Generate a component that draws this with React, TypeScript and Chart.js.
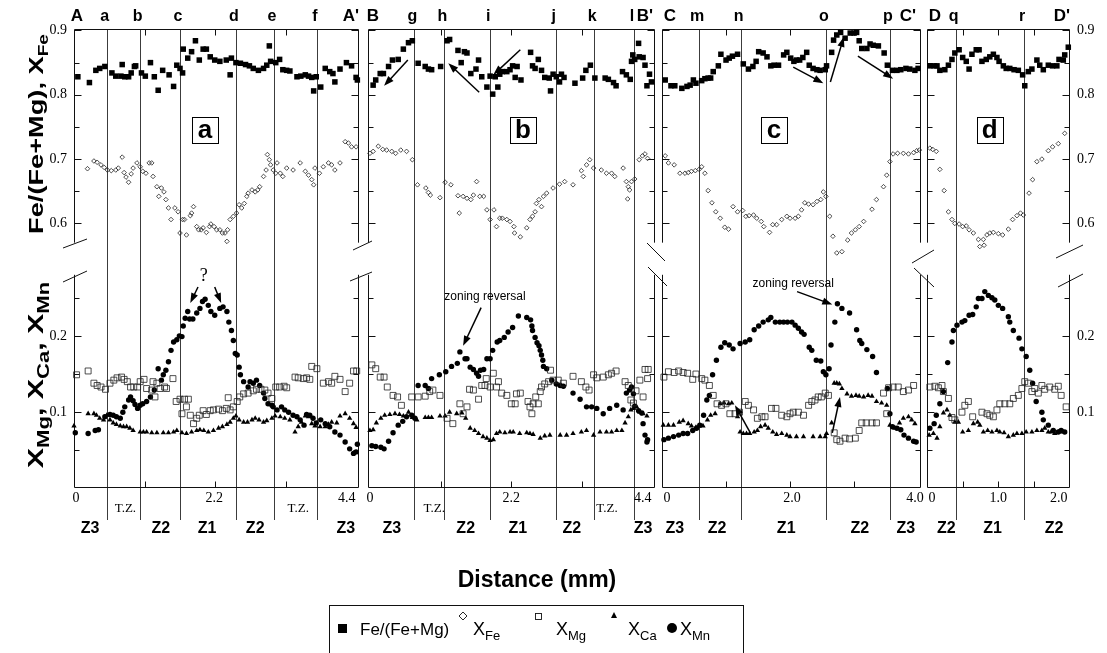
import React, { useEffect, useRef } from 'react';
import { Chart, registerables } from 'chart.js';

Chart.register(...registerables);

type Pt = [number, number];
type Arrow = [number, number, number, number, string];
type Note = [string, number, number, string, string];

const W = 1107;
const H = 653;
const TOP = 29;
const BOTTOM = 487;
const ZONE_LINE_END = 520;
const Y_TOP_MIN = 0.19;
const Y_TOP_MAX = 0.9023;
const Y_BOT_MIN = 0.002;
const Y_BOT_MAX = 0.602;
const TOP_AXIS_LOW = 0.57;
const BOT_AXIS_HIGH = 0.28;
const TOP_TICKS = [0.6, 0.65, 0.7, 0.75, 0.8, 0.85, 0.9];
const BOT_TICKS = [0.05, 0.1, 0.15, 0.2, 0.25];
const TOP_TICK_LABELS = [0.9, 0.8, 0.7, 0.6];
const BOT_TICK_LABELS = [0.2, 0.1];

const SANS = '"Liberation Sans", Arial, Helvetica, sans-serif';
const SERIF = '"Liberation Serif", "Times New Roman", Times, serif';

// ---------------- Profile A–A' (panel a) ----------------
const aFeMg: Pt[] = [[0.06,0.828],[0.24,0.819],[0.34,0.838],[0.40,0.841],[0.48,0.844],[0.59,0.834],[0.65,0.829],[0.73,0.829],[0.75,0.847],[0.79,0.828],[0.85,0.828],[0.89,0.834],[0.94,0.844],[0.96,0.845],[1.05,0.834],[1.11,0.829],[1.19,0.850],[1.25,0.828],[1.31,0.807],[1.38,0.838],[1.48,0.831],[1.55,0.813],[1.60,0.846],[1.65,0.841],[1.69,0.834],[1.70,0.871],[1.77,0.857],[1.83,0.867],[1.89,0.884],[1.95,0.854],[2.01,0.871],[2.06,0.871],[2.12,0.859],[2.19,0.854],[2.27,0.852],[2.37,0.854],[2.43,0.831],[2.45,0.857],[2.52,0.850],[2.59,0.849],[2.67,0.847],[2.73,0.845],[2.79,0.841],[2.87,0.838],[2.95,0.841],[3.00,0.846],[3.04,0.876],[3.06,0.852],[3.14,0.850],[3.20,0.855],[3.25,0.839],[3.31,0.838],[3.36,0.837],[3.47,0.828],[3.53,0.829],[3.60,0.831],[3.65,0.829],[3.70,0.827],[3.73,0.806],[3.77,0.828],[3.84,0.812],[3.91,0.841],[3.98,0.836],[4.03,0.833],[4.06,0.820],[4.14,0.840],[4.24,0.850],[4.32,0.845],[4.39,0.827],[4.41,0.823]];
const aXFe: Pt[] = [[0.21,0.685],[0.31,0.697],[0.36,0.695],[0.42,0.691],[0.47,0.687],[0.52,0.683],[0.58,0.682],[0.65,0.683],[0.69,0.686],[0.75,0.703],[0.78,0.679],[0.81,0.672],[0.85,0.664],[0.89,0.677],[0.92,0.686],[0.98,0.694],[1.03,0.688],[1.07,0.681],[1.12,0.678],[1.17,0.694],[1.21,0.694],[1.23,0.673],[1.29,0.657],[1.32,0.642],[1.36,0.655],[1.40,0.649],[1.43,0.637],[1.47,0.624],[1.51,0.606],[1.57,0.624],[1.62,0.618],[1.65,0.585],[1.69,0.606],[1.72,0.606],[1.75,0.582],[1.81,0.612],[1.83,0.616],[1.86,0.626],[1.91,0.595],[1.94,0.590],[1.98,0.590],[2.01,0.593],[2.06,0.586],[2.11,0.595],[2.13,0.599],[2.18,0.595],[2.22,0.590],[2.27,0.590],[2.31,0.585],[2.35,0.585],[2.38,0.572],[2.39,0.590],[2.43,0.606],[2.48,0.611],[2.53,0.616],[2.57,0.629],[2.61,0.624],[2.65,0.631],[2.69,0.642],[2.71,0.647],[2.77,0.652],[2.82,0.649],[2.86,0.652],[2.89,0.657],[2.95,0.673],[2.99,0.683],[3.01,0.707],[3.04,0.699],[3.06,0.691],[3.10,0.683],[3.14,0.678],[3.16,0.694],[3.21,0.678],[3.25,0.673],[3.31,0.686],[3.41,0.683],[3.52,0.694],[3.60,0.681],[3.65,0.675],[3.70,0.668],[3.73,0.660],[3.75,0.686],[3.82,0.678],[3.88,0.688],[3.96,0.694],[4.01,0.691],[4.06,0.683],[4.14,0.694],[4.22,0.727],[4.27,0.725],[4.32,0.719],[4.39,0.719]];
const aXMn: Pt[] = [[0.02,0.073],[0.22,0.072],[0.33,0.076],[0.38,0.077],[0.48,0.094],[0.56,0.097],[0.61,0.096],[0.66,0.094],[0.72,0.092],[0.76,0.100],[0.79,0.107],[0.85,0.116],[0.88,0.120],[0.92,0.115],[0.95,0.110],[0.99,0.105],[1.03,0.109],[1.07,0.111],[1.13,0.114],[1.19,0.120],[1.25,0.129],[1.31,0.157],[1.36,0.142],[1.39,0.149],[1.43,0.155],[1.47,0.166],[1.51,0.181],[1.55,0.192],[1.60,0.195],[1.64,0.200],[1.68,0.199],[1.70,0.213],[1.73,0.223],[1.77,0.232],[1.80,0.222],[1.85,0.222],[1.91,0.230],[1.96,0.236],[2.00,0.245],[2.04,0.248],[2.09,0.240],[2.13,0.232],[2.19,0.227],[2.27,0.236],[2.32,0.238],[2.38,0.232],[2.41,0.218],[2.45,0.207],[2.48,0.194],[2.51,0.177],[2.54,0.175],[2.57,0.159],[2.59,0.149],[2.64,0.140],[2.71,0.133],[2.74,0.140],[2.79,0.138],[2.84,0.142],[2.89,0.135],[2.95,0.125],[2.97,0.118],[3.02,0.111],[3.08,0.109],[3.10,0.107],[3.16,0.103],[3.23,0.107],[3.28,0.103],[3.34,0.100],[3.41,0.096],[3.47,0.094],[3.52,0.090],[3.58,0.083],[3.62,0.097],[3.67,0.096],[3.72,0.092],[3.77,0.086],[3.84,0.090],[3.91,0.085],[3.98,0.081],[4.06,0.074],[4.14,0.070],[4.22,0.061],[4.29,0.052],[4.35,0.046],[4.39,0.048],[4.41,0.058]];
const aXMg: Pt[] = [[0.04,0.149],[0.22,0.154],[0.31,0.138],[0.36,0.135],[0.42,0.133],[0.49,0.130],[0.56,0.138],[0.62,0.142],[0.67,0.145],[0.74,0.146],[0.78,0.143],[0.83,0.140],[0.88,0.133],[0.93,0.133],[0.99,0.133],[1.03,0.140],[1.09,0.143],[1.13,0.131],[1.21,0.129],[1.23,0.140],[1.26,0.120],[1.29,0.138],[1.34,0.131],[1.41,0.133],[1.44,0.131],[1.54,0.144],[1.59,0.114],[1.65,0.117],[1.72,0.117],[1.78,0.117],[1.68,0.098],[1.75,0.107],[1.81,0.096],[1.86,0.085],[1.91,0.092],[1.95,0.096],[2.01,0.102],[2.06,0.097],[2.12,0.102],[2.17,0.103],[2.25,0.104],[2.31,0.102],[2.37,0.105],[2.40,0.119],[2.43,0.103],[2.48,0.107],[2.54,0.114],[2.58,0.120],[2.64,0.124],[2.71,0.125],[2.79,0.128],[2.84,0.130],[2.91,0.130],[2.97,0.129],[3.02,0.125],[3.08,0.118],[3.14,0.133],[3.20,0.133],[3.27,0.134],[3.31,0.132],[3.44,0.146],[3.49,0.145],[3.57,0.144],[3.62,0.145],[3.67,0.143],[3.70,0.160],[3.78,0.157],[3.88,0.138],[3.96,0.140],[4.01,0.138],[4.06,0.147],[4.14,0.143],[4.22,0.127],[4.29,0.138],[4.35,0.154],[4.40,0.154]];
const aXCa: Pt[] = [[0.00,0.082],[0.22,0.098],[0.31,0.098],[0.35,0.096],[0.40,0.092],[0.46,0.090],[0.51,0.096],[0.56,0.090],[0.61,0.086],[0.66,0.084],[0.72,0.082],[0.77,0.081],[0.82,0.081],[0.87,0.079],[0.92,0.076],[1.03,0.074],[1.08,0.074],[1.13,0.074],[1.21,0.073],[1.29,0.073],[1.39,0.073],[1.47,0.073],[1.55,0.074],[1.60,0.076],[1.68,0.073],[1.75,0.072],[1.83,0.074],[1.91,0.076],[1.96,0.077],[2.02,0.076],[2.09,0.074],[2.17,0.076],[2.25,0.079],[2.31,0.081],[2.38,0.084],[2.43,0.087],[2.48,0.092],[2.52,0.095],[2.57,0.090],[2.64,0.087],[2.70,0.087],[2.77,0.090],[2.82,0.092],[2.88,0.090],[2.95,0.087],[3.00,0.089],[3.08,0.092],[3.13,0.095],[3.21,0.094],[3.28,0.092],[3.36,0.090],[3.44,0.074],[3.49,0.081],[3.54,0.087],[3.60,0.095],[3.65,0.094],[3.70,0.085],[3.75,0.082],[3.83,0.081],[3.91,0.081],[3.96,0.084],[4.01,0.087],[4.09,0.086],[4.14,0.095],[4.22,0.098],[4.29,0.092],[4.35,0.085],[4.39,0.080]];
const aLines = [0.51, 1.02, 1.65, 2.52, 3.11, 3.78];
const aLetters = ['a', 'b', 'c', 'd', 'e', 'f'];
const aTickLabels: [number, string][] = [[0, '0'], [2.2, '2.2'], [4.4, '4.4']];
const aTZ = [0.8, 3.49];
const aZones: [number, string][] = [[0.25, 'Z3'], [1.35, 'Z2'], [2.07, 'Z1'], [2.82, 'Z2'], [4.23, 'Z3']];
const aArrows: Arrow[] = [[1.93, 0.264, 1.81, 0.243, 'yBot'], [2.19, 0.264, 2.29, 0.243, 'yBot']];
const aNotes: Note[] = [['?', 2.02, 0.2785, 'yBot', `18px ${SERIF}`]];

// ---------------- Profile B–B' (panel b) ----------------
const bFeMg: Pt[] = [[0.05,0.815],[0.09,0.823],[0.16,0.833],[0.21,0.833],[0.29,0.844],[0.35,0.854],[0.44,0.855],[0.52,0.871],[0.60,0.881],[0.66,0.884],[0.75,0.849],[0.86,0.844],[0.91,0.840],[0.96,0.839],[1.10,0.844],[1.20,0.884],[1.24,0.886],[1.37,0.869],[1.42,0.850],[1.47,0.867],[1.51,0.865],[1.57,0.833],[1.65,0.840],[1.69,0.854],[1.74,0.828],[1.82,0.812],[1.87,0.829],[1.91,0.801],[1.95,0.828],[1.99,0.812],[2.02,0.832],[2.06,0.836],[2.13,0.836],[2.18,0.839],[2.22,0.845],[2.26,0.827],[2.29,0.844],[2.35,0.823],[2.50,0.866],[2.53,0.845],[2.57,0.841],[2.62,0.855],[2.67,0.838],[2.72,0.827],[2.79,0.826],[2.81,0.806],[2.85,0.832],[2.90,0.828],[2.95,0.820],[2.98,0.832],[3.02,0.827],[3.19,0.818],[3.31,0.826],[3.36,0.838],[3.43,0.846],[3.50,0.826],[3.66,0.826],[3.71,0.824],[3.79,0.819],[3.83,0.814],[3.93,0.836],[3.99,0.831],[4.05,0.824],[4.07,0.852],[4.09,0.862],[4.12,0.855],[4.18,0.880],[4.19,0.859],[4.25,0.858],[4.28,0.846],[4.31,0.814],[4.35,0.832],[4.38,0.820]];
const bXFe: Pt[] = [[0.00,0.709],[0.05,0.712],[0.13,0.720],[0.20,0.715],[0.26,0.714],[0.34,0.712],[0.40,0.709],[0.48,0.714],[0.57,0.712],[0.66,0.699],[0.74,0.660],[0.87,0.655],[0.91,0.648],[0.94,0.644],[1.09,0.640],[1.17,0.664],[1.26,0.660],[1.37,0.643],[1.39,0.616],[1.45,0.642],[1.51,0.639],[1.57,0.637],[1.61,0.644],[1.66,0.665],[1.71,0.642],[1.77,0.642],[1.82,0.621],[1.87,0.606],[1.93,0.621],[1.97,0.595],[2.02,0.608],[2.06,0.608],[2.13,0.606],[2.18,0.603],[2.24,0.595],[2.25,0.585],[2.34,0.579],[2.44,0.593],[2.49,0.606],[2.53,0.611],[2.57,0.618],[2.59,0.631],[2.63,0.637],[2.67,0.626],[2.70,0.642],[2.75,0.647],[2.85,0.655],[2.95,0.661],[3.03,0.665],[3.16,0.660],[3.29,0.682],[3.32,0.673],[3.37,0.691],[3.42,0.699],[3.48,0.686],[3.60,0.683],[3.68,0.678],[3.76,0.678],[3.81,0.673],[3.94,0.686],[3.99,0.665],[4.02,0.657],[4.04,0.652],[4.01,0.638],[4.07,0.665],[4.12,0.669],[4.19,0.699],[4.24,0.705],[4.28,0.708],[4.32,0.701]];
const bXMn: Pt[] = [[0.03,0.056],[0.09,0.055],[0.17,0.054],[0.22,0.052],[0.29,0.062],[0.36,0.073],[0.44,0.083],[0.51,0.088],[0.57,0.094],[0.65,0.096],[0.70,0.092],[0.75,0.135],[0.86,0.135],[0.91,0.131],[0.96,0.144],[1.08,0.149],[1.18,0.153],[1.27,0.160],[1.36,0.164],[1.40,0.179],[1.48,0.170],[1.51,0.170],[1.56,0.159],[1.61,0.156],[1.66,0.151],[1.69,0.147],[1.72,0.155],[1.77,0.156],[1.82,0.170],[1.87,0.170],[1.91,0.181],[1.98,0.192],[2.02,0.194],[2.09,0.198],[2.15,0.205],[2.22,0.211],[2.31,0.226],[2.44,0.224],[2.50,0.221],[2.52,0.213],[2.53,0.207],[2.57,0.198],[2.60,0.191],[2.63,0.187],[2.65,0.181],[2.67,0.175],[2.69,0.168],[2.70,0.160],[2.75,0.157],[2.83,0.142],[2.90,0.137],[2.96,0.135],[3.01,0.134],[3.16,0.125],[3.27,0.117],[3.37,0.107],[3.45,0.107],[3.53,0.105],[3.63,0.098],[3.73,0.105],[3.84,0.109],[3.94,0.103],[3.99,0.125],[4.04,0.129],[4.07,0.133],[4.10,0.124],[4.12,0.108],[4.18,0.102],[4.23,0.099],[4.25,0.085],[4.28,0.070],[4.31,0.061],[4.32,0.064]];
const bXMg: Pt[] = [[0.03,0.162],[0.09,0.157],[0.16,0.146],[0.22,0.146],[0.27,0.133],[0.36,0.122],[0.43,0.120],[0.49,0.109],[0.65,0.120],[0.75,0.120],[0.86,0.121],[0.93,0.127],[0.98,0.129],[1.09,0.122],[1.20,0.092],[1.29,0.085],[1.40,0.111],[1.45,0.098],[1.51,0.107],[1.55,0.130],[1.61,0.129],[1.69,0.117],[1.74,0.135],[1.79,0.135],[1.81,0.144],[1.87,0.133],[1.92,0.151],[1.97,0.133],[2.00,0.140],[2.05,0.125],[2.13,0.122],[2.20,0.111],[2.26,0.111],[2.28,0.124],[2.34,0.125],[2.46,0.114],[2.49,0.107],[2.52,0.098],[2.54,0.111],[2.58,0.120],[2.62,0.111],[2.65,0.127],[2.67,0.133],[2.72,0.137],[2.78,0.140],[2.81,0.155],[2.85,0.142],[2.93,0.142],[3.01,0.138],[3.16,0.147],[3.29,0.140],[3.36,0.133],[3.41,0.129],[3.48,0.149],[3.53,0.145],[3.63,0.146],[3.71,0.149],[3.76,0.151],[3.83,0.154],[3.97,0.140],[4.02,0.135],[4.06,0.116],[4.10,0.112],[4.14,0.128],[4.20,0.142],[4.25,0.120],[4.28,0.156],[4.33,0.156],[4.32,0.144]];
const bXCa: Pt[] = [[0.00,0.076],[0.05,0.077],[0.10,0.086],[0.17,0.092],[0.23,0.096],[0.31,0.097],[0.39,0.098],[0.46,0.097],[0.52,0.095],[0.60,0.100],[0.66,0.093],[0.73,0.090],[0.86,0.093],[0.91,0.093],[0.96,0.093],[1.09,0.095],[1.17,0.095],[1.24,0.100],[1.35,0.098],[1.43,0.099],[1.49,0.092],[1.56,0.079],[1.63,0.076],[1.69,0.072],[1.76,0.068],[1.82,0.066],[1.87,0.063],[1.92,0.064],[1.97,0.072],[2.02,0.074],[2.10,0.073],[2.18,0.074],[2.23,0.074],[2.33,0.072],[2.44,0.073],[2.49,0.072],[2.54,0.071],[2.65,0.066],[2.72,0.069],[2.80,0.070],[2.96,0.070],[3.06,0.070],[3.16,0.072],[3.29,0.074],[3.37,0.076],[3.48,0.070],[3.58,0.074],[3.68,0.074],[3.76,0.074],[3.84,0.076],[3.92,0.076],[3.97,0.086],[4.02,0.094],[4.06,0.103],[4.10,0.105],[4.15,0.107],[4.20,0.100],[4.25,0.098],[4.31,0.095]];
const bLines = [0.69, 1.16, 1.87, 2.89, 3.49, 4.11];
const bLetters = ['g', 'h', 'i', 'j', 'k', 'l'];
const bTickLabels: [number, string][] = [[0, '0'], [2.2, '2.2'], [4.4, '4.4']];
const bTZ = [1.0, 3.69];
const bZones: [number, string][] = [[0.34, 'Z3'], [1.49, 'Z2'], [2.3, 'Z1'], [3.14, 'Z2'], [4.25, 'Z3']];
const bArrows: Arrow[] = [[0.59, 0.854, 0.22, 0.814, 'yTop'], [1.70, 0.804, 1.22, 0.849, 'yTop'], [2.34, 0.870, 1.92, 0.831, 'yTop'], [1.73, 0.237, 1.45, 0.187, 'yBot']];
const bNotes: Note[] = [['zoning reversal', 1.79, 0.251, 'yBot', `12px ${SANS}`]];

// ---------------- Profile C–C' (panel c) ----------------
const cFeMg: Pt[] = [[0.05,0.823],[0.14,0.814],[0.20,0.814],[0.31,0.810],[0.39,0.813],[0.44,0.815],[0.49,0.823],[0.53,0.818],[0.62,0.822],[0.67,0.825],[0.72,0.826],[0.76,0.826],[0.80,0.836],[0.88,0.845],[0.92,0.863],[1.00,0.854],[1.05,0.857],[1.10,0.860],[1.18,0.863],[1.27,0.848],[1.35,0.840],[1.42,0.844],[1.47,0.852],[1.51,0.867],[1.58,0.865],[1.64,0.859],[1.70,0.845],[1.75,0.846],[1.82,0.846],[1.90,0.862],[1.95,0.866],[2.01,0.857],[2.06,0.852],[2.10,0.854],[2.15,0.854],[2.20,0.858],[2.26,0.866],[2.30,0.846],[2.36,0.841],[2.42,0.839],[2.47,0.838],[2.55,0.839],[2.57,0.845],[2.65,0.866],[2.68,0.885],[2.73,0.893],[2.79,0.897],[2.86,0.888],[2.94,0.896],[3.00,0.896],[3.04,0.897],[3.08,0.884],[3.12,0.872],[3.20,0.872],[3.25,0.879],[3.30,0.877],[3.38,0.876],[3.47,0.865],[3.52,0.846],[3.60,0.838],[3.67,0.838],[3.73,0.839],[3.81,0.841],[3.87,0.840],[3.95,0.838],[4.00,0.841]];
const cXFe: Pt[] = [[0.05,0.705],[0.10,0.694],[0.19,0.691],[0.28,0.678],[0.36,0.678],[0.41,0.679],[0.46,0.681],[0.52,0.682],[0.58,0.684],[0.62,0.688],[0.67,0.678],[0.72,0.651],[0.78,0.632],[0.84,0.618],[0.91,0.608],[0.98,0.594],[1.04,0.591],[1.11,0.626],[1.18,0.618],[1.26,0.620],[1.31,0.611],[1.36,0.612],[1.43,0.613],[1.48,0.608],[1.55,0.603],[1.59,0.595],[1.68,0.586],[1.73,0.598],[1.79,0.598],[1.87,0.606],[1.95,0.611],[2.00,0.608],[2.08,0.608],[2.13,0.611],[2.18,0.621],[2.23,0.632],[2.29,0.630],[2.36,0.629],[2.42,0.634],[2.48,0.637],[2.52,0.649],[2.56,0.642],[2.62,0.611],[2.67,0.580],[2.73,0.554],[2.81,0.556],[2.90,0.574],[2.96,0.585],[3.02,0.590],[3.08,0.595],[3.15,0.603],[3.28,0.622],[3.35,0.637],[3.46,0.657],[3.51,0.675],[3.56,0.696],[3.61,0.708],[3.68,0.709],[3.77,0.709],[3.85,0.708],[3.93,0.710],[3.98,0.713],[4.02,0.714]];
const cXMn: Pt[] = [[0.03,0.064],[0.10,0.066],[0.18,0.068],[0.26,0.070],[0.33,0.072],[0.40,0.072],[0.48,0.076],[0.54,0.079],[0.59,0.083],[0.65,0.096],[0.70,0.116],[0.74,0.122],[0.79,0.149],[0.85,0.168],[0.92,0.185],[0.98,0.191],[1.05,0.188],[1.11,0.183],[1.22,0.190],[1.30,0.192],[1.37,0.195],[1.44,0.208],[1.51,0.213],[1.58,0.218],[1.66,0.221],[1.70,0.224],[1.77,0.218],[1.84,0.218],[1.90,0.218],[1.96,0.218],[2.03,0.218],[2.08,0.214],[2.13,0.210],[2.18,0.205],[2.22,0.202],[2.30,0.185],[2.34,0.181],[2.41,0.168],[2.48,0.167],[2.52,0.153],[2.56,0.149],[2.61,0.157],[2.64,0.188],[2.70,0.218],[2.74,0.242],[2.81,0.236],[2.93,0.230],[3.04,0.208],[3.09,0.194],[3.12,0.190],[3.20,0.182],[3.29,0.173],[3.35,0.152],[3.52,0.131],[3.56,0.098],[3.60,0.081],[3.67,0.079],[3.73,0.077],[3.78,0.070],[3.85,0.066],[3.93,0.062],[3.97,0.061]];
const cXMg: Pt[] = [[0.03,0.146],[0.10,0.153],[0.19,0.152],[0.26,0.154],[0.33,0.152],[0.40,0.151],[0.48,0.143],[0.53,0.150],[0.62,0.144],[0.67,0.142],[0.74,0.135],[0.80,0.122],[0.86,0.111],[0.93,0.109],[1.00,0.111],[1.06,0.098],[1.14,0.098],[1.21,0.100],[1.30,0.114],[1.35,0.109],[1.43,0.103],[1.49,0.092],[1.56,0.094],[1.61,0.094],[1.71,0.105],[1.78,0.105],[1.87,0.096],[1.95,0.094],[2.00,0.098],[2.05,0.100],[2.13,0.100],[2.21,0.096],[2.29,0.109],[2.34,0.114],[2.39,0.116],[2.44,0.120],[2.49,0.120],[2.55,0.125],[2.60,0.122],[2.69,0.073],[2.73,0.064],[2.78,0.062],[2.86,0.066],[2.93,0.065],[3.02,0.066],[3.08,0.076],[3.12,0.086],[3.19,0.086],[3.28,0.086],[3.35,0.086],[3.46,0.125],[3.51,0.098],[3.54,0.132],[3.61,0.133],[3.69,0.133],[3.77,0.127],[3.85,0.129],[3.93,0.135]];
const cXCa: Pt[] = [[0.02,0.083],[0.10,0.083],[0.18,0.083],[0.27,0.087],[0.33,0.089],[0.41,0.085],[0.46,0.082],[0.53,0.080],[0.58,0.082],[0.64,0.082],[0.71,0.090],[0.76,0.096],[0.83,0.098],[0.91,0.111],[0.97,0.112],[1.04,0.111],[1.09,0.112],[1.18,0.094],[1.22,0.074],[1.27,0.072],[1.32,0.072],[1.37,0.072],[1.44,0.074],[1.49,0.076],[1.54,0.081],[1.61,0.083],[1.66,0.079],[1.73,0.074],[1.79,0.071],[1.87,0.072],[1.95,0.070],[2.00,0.068],[2.10,0.068],[2.21,0.068],[2.36,0.068],[2.47,0.068],[2.55,0.068],[2.57,0.072],[2.65,0.086],[2.69,0.138],[2.73,0.138],[2.77,0.137],[2.81,0.131],[2.89,0.124],[2.96,0.121],[3.03,0.122],[3.08,0.121],[3.15,0.120],[3.22,0.122],[3.28,0.121],[3.35,0.114],[3.43,0.112],[3.51,0.109],[3.56,0.083],[3.64,0.079],[3.71,0.086],[3.77,0.092],[3.85,0.094],[3.90,0.090],[3.95,0.085]];
const cLines = [0.58, 1.23, 2.56, 3.56];
const cLetters = ['m', 'n', 'o', 'p'];
const cTickLabels: [number, string][] = [[0, '0'], [2.0, '2.0'], [4.0, '4.0']];
const cTZ: number[] = [];
const cZones: [number, string][] = [[0.2, 'Z3'], [0.86, 'Z2'], [1.94, 'Z1'], [3.09, 'Z2'], [3.81, 'Z3']];
const cArrows: Arrow[] = [[2.05, 0.843, 2.52, 0.818, 'yTop'], [2.63, 0.820, 2.84, 0.890, 'yTop'], [3.06, 0.860, 3.61, 0.825, 'yTop'], [2.11, 0.258, 2.66, 0.241, 'yBot'], [1.38, 0.073, 1.14, 0.109, 'yBot'], [2.66, 0.073, 2.78, 0.120, 'yBot']];
const cNotes: Note[] = [['zoning reversal', 2.05, 0.269, 'yBot', `12px ${SANS}`]];

// ---------------- Profile D–D' (panel d) ----------------
const dFeMg: Pt[] = [[0.04,0.845],[0.10,0.845],[0.14,0.845],[0.18,0.838],[0.25,0.839],[0.30,0.846],[0.35,0.855],[0.39,0.865],[0.45,0.870],[0.50,0.858],[0.55,0.852],[0.59,0.840],[0.63,0.863],[0.69,0.870],[0.73,0.870],[0.77,0.852],[0.83,0.855],[0.88,0.859],[0.93,0.863],[0.98,0.858],[1.01,0.852],[1.07,0.845],[1.11,0.841],[1.16,0.841],[1.22,0.839],[1.28,0.838],[1.34,0.831],[1.37,0.814],[1.42,0.836],[1.47,0.840],[1.54,0.854],[1.58,0.846],[1.63,0.839],[1.70,0.846],[1.76,0.845],[1.82,0.845],[1.85,0.855],[1.91,0.854],[1.93,0.862],[1.98,0.874]];
const dXFe: Pt[] = [[0.04,0.717],[0.08,0.715],[0.13,0.712],[0.18,0.684],[0.24,0.651],[0.30,0.618],[0.35,0.606],[0.39,0.600],[0.45,0.599],[0.50,0.595],[0.55,0.596],[0.59,0.590],[0.65,0.585],[0.72,0.575],[0.74,0.564],[0.79,0.575],[0.80,0.566],[0.84,0.582],[0.88,0.585],[0.93,0.586],[1.00,0.584],[1.06,0.582],[1.14,0.591],[1.20,0.606],[1.26,0.612],[1.31,0.616],[1.35,0.613],[1.43,0.647],[1.48,0.668],[1.54,0.696],[1.61,0.700],[1.70,0.713],[1.76,0.719],[1.84,0.724],[1.93,0.740]];
const dXMn: Pt[] = [[0.04,0.079],[0.10,0.085],[0.13,0.096],[0.18,0.111],[0.23,0.127],[0.29,0.165],[0.35,0.192],[0.37,0.207],[0.42,0.214],[0.49,0.218],[0.53,0.220],[0.59,0.227],[0.64,0.228],[0.69,0.238],[0.72,0.249],[0.77,0.249],[0.81,0.258],[0.86,0.253],[0.91,0.250],[0.95,0.247],[1.00,0.240],[1.06,0.236],[1.14,0.225],[1.16,0.218],[1.21,0.207],[1.29,0.197],[1.33,0.183],[1.39,0.173],[1.44,0.155],[1.48,0.138],[1.53,0.114],[1.61,0.100],[1.63,0.090],[1.70,0.083],[1.77,0.076],[1.84,0.074],[1.88,0.076],[1.93,0.074]];
const dXMg: Pt[] = [[0.04,0.133],[0.11,0.134],[0.16,0.132],[0.21,0.135],[0.23,0.127],[0.30,0.118],[0.35,0.093],[0.39,0.090],[0.49,0.100],[0.53,0.109],[0.58,0.114],[0.64,0.094],[0.77,0.100],[0.84,0.098],[0.88,0.096],[0.93,0.094],[0.98,0.103],[1.02,0.111],[1.09,0.111],[1.16,0.111],[1.21,0.118],[1.28,0.122],[1.33,0.131],[1.37,0.140],[1.42,0.138],[1.47,0.127],[1.51,0.131],[1.56,0.125],[1.61,0.135],[1.65,0.130],[1.72,0.133],[1.79,0.130],[1.84,0.134],[1.88,0.122],[1.95,0.107]];
const dXCa: Pt[] = [[0.03,0.070],[0.09,0.072],[0.14,0.066],[0.18,0.081],[0.23,0.099],[0.28,0.103],[0.32,0.096],[0.39,0.087],[0.44,0.087],[0.50,0.074],[0.58,0.076],[0.65,0.085],[0.71,0.087],[0.74,0.083],[0.79,0.074],[0.85,0.076],[0.91,0.074],[0.98,0.076],[1.02,0.074],[1.08,0.073],[1.14,0.068],[1.21,0.070],[1.26,0.072],[1.33,0.072],[1.39,0.074],[1.47,0.074],[1.54,0.076],[1.61,0.076],[1.65,0.079],[1.70,0.074],[1.74,0.074],[1.79,0.072],[1.84,0.074],[1.91,0.074]];
const dLines = [0.4, 1.36];
const dLetters = ['q', 'r'];
const dTickLabels: [number, string][] = [[0, '0'], [1.0, '1.0'], [2.0, '2.0']];
const dTZ: number[] = [];
const dZones: [number, string][] = [[0.27, 'Z2'], [0.92, 'Z1'], [1.78, 'Z2']];
const dArrows: Arrow[] = [];
const dNotes: Note[] = [];

const PANELS = [
  { key: 'a', left: 74, right: 358, xMin: 0, xMax: 4.42, feMg: aFeMg, xFe: aXFe, xMg: aXMg, xCa: aXCa, xMn: aXMn, lines: aLines, letters: aLetters, capL: 'A', capLdx: 3, capR: "A'", capRdx: -7, xTicks: [1.1, 2.2, 3.3], tickLabels: aTickLabels, labelDx: [2, -1, -10], tz: aTZ, zones: aZones, arrows: aArrows, notes: aNotes, box: [2.04, 0.745, 'a'], yLabels: 'left' },
  { key: 'b', left: 368, right: 654, xMin: -0.03, xMax: 4.42, feMg: bFeMg, xFe: bXFe, xMg: bXMg, xCa: bXCa, xMn: bXMn, lines: bLines, letters: bLetters, capL: 'B', capLdx: 5, capR: "B'", capRdx: -9, xTicks: [1.1, 2.2, 3.3], tickLabels: bTickLabels, labelDx: [0, 0, -10], tz: bTZ, zones: bZones, arrows: bArrows, notes: bNotes, box: [2.38, 0.745, 'b'], yLabels: 'none' },
  { key: 'c', left: 662, right: 920, xMin: 0, xMax: 4.03, feMg: cFeMg, xFe: cXFe, xMg: cXMg, xCa: cXCa, xMn: cXMn, lines: cLines, letters: cLetters, capL: 'C', capLdx: 8, capR: "C'", capRdx: -12, xTicks: [1, 2, 3], tickLabels: cTickLabels, labelDx: [5, 2, -3], tz: cTZ, zones: cZones, arrows: cArrows, notes: cNotes, box: [1.75, 0.745, 'c'], yLabels: 'none' },
  { key: 'd', left: 927, right: 1069, xMin: 0, xMax: 1.99, feMg: dFeMg, xFe: dXFe, xMg: dXMg, xCa: dXCa, xMn: dXMn, lines: dLines, letters: dLetters, capL: 'D', capLdx: 8, capR: "D'", capRdx: -7, xTicks: [0.5, 1, 1.5], tickLabels: dTickLabels, labelDx: [5, 0, -11], tz: dTZ, zones: dZones, arrows: dArrows, notes: dNotes, box: [0.88, 0.745, 'd'], yLabels: 'right' },
];

function seg(ctx: CanvasRenderingContext2D, x1: number, y1: number, x2: number, y2: number) {
  ctx.beginPath();
  ctx.moveTo(x1, y1);
  ctx.lineTo(x2, y2);
  ctx.stroke();
}

function arrow(ctx: CanvasRenderingContext2D, x1: number, y1: number, x2: number, y2: number) {
  const a = Math.atan2(y2 - y1, x2 - x1);
  const hl = 10, hw = 3.6;
  const c = Math.cos(a), s = Math.sin(a);
  ctx.lineWidth = 1.5;
  seg(ctx, x1, y1, x2 - c * hl * 0.7, y2 - s * hl * 0.7);
  ctx.beginPath();
  ctx.moveTo(x2, y2);
  ctx.lineTo(x2 - c * hl + s * hw, y2 - s * hl - c * hw);
  ctx.lineTo(x2 - c * hl - s * hw, y2 - s * hl + c * hw);
  ctx.closePath();
  ctx.fill();
}

function drawRich(ctx: CanvasRenderingContext2D, parts: [string, boolean][], size: number, weight: string, x: number, y: number, align: string, stretch = 1) {
  const sub = Math.round(size * 0.72);
  const font = (s: boolean) => `${weight} ${s ? sub : size}px ${SANS}`;
  const ws: number[] = [];
  let total = 0;
  for (const [t, s] of parts) {
    ctx.font = font(s);
    const w = ctx.measureText(t).width;
    ws.push(w);
    total += w;
  }
  ctx.save();
  ctx.translate(x, y);
  ctx.scale(stretch, 1);
  let cx = align === 'center' ? -total / 2 : 0;
  ctx.textAlign = 'left';
  ctx.textBaseline = 'alphabetic';
  parts.forEach(([t, s], i) => {
    ctx.font = font(s);
    ctx.fillText(t, cx, s ? size * 0.27 : 0);
    cx += ws[i];
  });
  ctx.restore();
}

const isMajor = (v: number) => Math.abs(v * 10 - Math.round(v * 10)) < 1e-6;

function decor(p: any) {
  return {
    id: 'decor_' + p.key,
    beforeDatasetsDraw(chart: any) {
      const { ctx, chartArea: ca } = chart;
      const xs = chart.scales.x, yt = chart.scales.yTop, yb = chart.scales.yBot;
      const L = Math.round(ca.left) + 0.5, R = Math.round(ca.right) + 0.5;
      const T = Math.round(ca.top) + 0.5, B = Math.round(ca.bottom) + 0.5;
      const topEnd = yt.getPixelForValue(TOP_AXIS_LOW);
      const botStart = yb.getPixelForValue(BOT_AXIS_HIGH);
      ctx.save();
      ctx.lineWidth = 1;
      ctx.strokeStyle = '#3c3c3c';
      for (const v of p.lines) {
        const x = Math.round(xs.getPixelForValue(v)) + 0.5;
        seg(ctx, x, T, x, ZONE_LINE_END);
      }
      ctx.strokeStyle = '#111';
      seg(ctx, L, T, R, T);
      seg(ctx, L, B, R, B);
      seg(ctx, L, T, L, topEnd);
      seg(ctx, L, botStart, L, B);
      seg(ctx, R, T, R, topEnd);
      seg(ctx, R, botStart, R, B);
      const ticks: [any, number[]][] = [[yt, TOP_TICKS], [yb, BOT_TICKS]];
      for (const [sc, vals] of ticks) {
        for (const v of vals) {
          const y = Math.round(sc.getPixelForValue(v)) + 0.5;
          const len = isMajor(v) ? 7 : 5;
          seg(ctx, L, y, L + len, y);
          seg(ctx, R - len, y, R, y);
        }
      }
      for (const v of p.xTicks) {
        const x = Math.round(xs.getPixelForValue(v)) + 0.5;
        seg(ctx, x, T, x, T + 6);
        seg(ctx, x, B - 6, x, B);
      }
      ctx.restore();
    },
    afterDatasetsDraw(chart: any) {
      const { ctx, chartArea: ca } = chart;
      const xs = chart.scales.x;
      const sc: any = { yTop: chart.scales.yTop, yBot: chart.scales.yBot };
      ctx.save();
      ctx.fillStyle = '#000';
      ctx.strokeStyle = '#000';
      // y tick labels
      if (p.yLabels !== 'none') {
        ctx.font = `14px ${SERIF}`;
        ctx.textBaseline = 'middle';
        const left = p.yLabels === 'left';
        ctx.textAlign = left ? 'right' : 'left';
        const x = left ? ca.left - 7 : ca.right + 8;
        for (const v of TOP_TICK_LABELS) ctx.fillText(v.toFixed(1), x, sc.yTop.getPixelForValue(v));
        for (const v of BOT_TICK_LABELS) ctx.fillText(v.toFixed(1), x, sc.yBot.getPixelForValue(v));
      }
      // x tick labels
      ctx.font = `14px ${SERIF}`;
      ctx.textAlign = 'center';
      ctx.textBaseline = 'middle';
      p.tickLabels.forEach(([v, t]: [number, string], i: number) => {
        ctx.fillText(t, xs.getPixelForValue(v) + p.labelDx[i], 498);
      });
      ctx.font = `13px ${SERIF}`;
      for (const v of p.tz) ctx.fillText('T.Z.', xs.getPixelForValue(v), 509);
      // zone labels
      ctx.font = `bold 16px ${SANS}`;
      for (const [v, t] of p.zones) ctx.fillText(t, xs.getPixelForValue(v), 529);
      // top letters
      ctx.textBaseline = 'alphabetic';
      ctx.font = `bold 16px ${SANS}`;
      p.lines.forEach((v: number, i: number) => {
        ctx.fillText(p.letters[i], xs.getPixelForValue(v) - 2, 21);
      });
      ctx.font = `bold 17px ${SANS}`;
      ctx.fillText(p.capL, ca.left + p.capLdx, 21);
      ctx.fillText(p.capR, ca.right + p.capRdx, 21);
      // panel box label
      const [bx, by, bt] = p.box;
      const cx = xs.getPixelForValue(bx), cy = sc.yTop.getPixelForValue(by);
      ctx.fillStyle = '#fff';
      ctx.fillRect(Math.round(cx - 13) + 0.5, Math.round(cy - 13) + 0.5, 26, 26);
      ctx.lineWidth = 1;
      ctx.strokeRect(Math.round(cx - 13) + 0.5, Math.round(cy - 13) + 0.5, 26, 26);
      ctx.fillStyle = '#000';
      ctx.font = `bold 26px ${SANS}`;
      ctx.textBaseline = 'middle';
      ctx.fillText(bt, cx, cy + 1);
      // arrows
      for (const [x1, y1, x2, y2, id] of p.arrows) {
        arrow(ctx, xs.getPixelForValue(x1), sc[id].getPixelForValue(y1), xs.getPixelForValue(x2), sc[id].getPixelForValue(y2));
      }
      // notes
      for (const [t, x, y, id, f] of p.notes) {
        ctx.font = f;
        ctx.textAlign = 'center';
        ctx.textBaseline = 'middle';
        ctx.fillText(t, xs.getPixelForValue(x), sc[id].getPixelForValue(y));
      }
      ctx.restore();
    },
  };
}

// break marks of the split y-axes: [edge pixel, dx1, dy1, dx2, dy2] relative to the gap rows
const BREAK_ROWS = [244, 277];
const BREAKS: [number, number, number, number, number, number][] = [
  [74, 0, -11, 4, 13, -5], [74, 1, -11, 5, 13, -6],
  [358, 0, -5, 6, 14, -3], [358, 1, -8, 4, 14, -5],
  [654, 0, -7, -1, 11, 17], [654, 1, -6, -10, 13, 9],
  [920, 0, -8, 19, 14, 6], [920, 1, -6, -9, 14, 10],
  [1069, 0, -13, 14, 14, 1], [1069, 1, -11, 10, 14, -3],
];

const globalPlugin = {
  id: 'globalText',
  afterDraw(chart: any) {
    const ctx: CanvasRenderingContext2D = chart.ctx;
    ctx.save();
    ctx.fillStyle = '#000';
    ctx.strokeStyle = '#111';
    ctx.lineWidth = 1;
    for (const [e, r, dx1, dy1, dx2, dy2] of BREAKS) {
      const y = BREAK_ROWS[r];
      seg(ctx, e + dx1, y + dy1, e + dx2, y + dy2);
    }
    // y-axis titles
    ctx.save();
    ctx.translate(0, 134);
    ctx.rotate(-Math.PI / 2);
    drawRich(ctx, [['Fe/(Fe+Mg), X', false], ['Fe', true]], 20, 'bold', 0, 43, 'center', 1.36);
    ctx.restore();
    ctx.save();
    ctx.translate(0, 375);
    ctx.rotate(-Math.PI / 2);
    drawRich(ctx, [['X', false], ['Mg', true], [', X', false], ['Ca', true], [', X', false], ['Mn', true]], 22, 'bold', 0, 43, 'center', 1.38);
    ctx.restore();
    // x-axis title
    ctx.font = `bold 23px ${SANS}`;
    ctx.textAlign = 'center';
    ctx.textBaseline = 'alphabetic';
    ctx.fillText('Distance (mm)', 537, 587);
    // legend
    ctx.strokeRect(329.5, 605.5, 414, 70);
    ctx.fillRect(338, 624, 9, 9);
    drawRich(ctx, [['Fe/(Fe+Mg)', false]], 17, 'normal', 360, 635, 'left');
    ctx.lineWidth = 0.9;
    ctx.beginPath();
    ctx.moveTo(463, 612); ctx.lineTo(467, 616); ctx.lineTo(463, 620); ctx.lineTo(459, 616); ctx.closePath();
    ctx.stroke();
    drawRich(ctx, [['X', false], ['Fe', true]], 18, 'normal', 473, 635, 'left');
    ctx.strokeRect(535.5, 613.5, 6, 6);
    drawRich(ctx, [['X', false], ['Mg', true]], 18, 'normal', 556, 635, 'left');
    ctx.beginPath();
    ctx.moveTo(614, 612); ctx.lineTo(617, 618); ctx.lineTo(611, 618); ctx.closePath();
    ctx.fill();
    drawRich(ctx, [['X', false], ['Ca', true]], 18, 'normal', 628, 635, 'left');
    ctx.beginPath();
    ctx.arc(672, 628, 5, 0, Math.PI * 2);
    ctx.fill();
    drawRich(ctx, [['X', false], ['Mn', true]], 18, 'normal', 680, 635, 'left');
    ctx.restore();
  },
};

function buildConfig(p: any, withGlobal: boolean): any {
  const ds = (label: string, pts: Pt[], yAxisID: string, style: any) => ({
    label,
    data: pts.map(([x, y]) => ({ x, y })),
    yAxisID,
    showLine: false,
    clip: false,
    ...style,
  });
  return {
    type: 'scatter',
    data: {
      datasets: [
        ds('X_Fe', p.xFe, 'yTop', { pointStyle: 'rectRot', pointRadius: 2.3, pointBorderWidth: 0.8, pointBackgroundColor: 'rgba(255,255,255,0)', pointBorderColor: '#222' }),
        ds('Fe/(Fe+Mg)', p.feMg, 'yTop', { pointStyle: 'rect', pointRadius: 3.9, pointBorderWidth: 0, pointBackgroundColor: '#000', pointBorderColor: '#000' }),
        ds('X_Mg', p.xMg, 'yBot', { pointStyle: 'rect', pointRadius: 4.2, pointBorderWidth: 0.8, pointBackgroundColor: 'rgba(255,255,255,0)', pointBorderColor: '#222' }),
        ds('X_Ca', p.xCa, 'yBot', { pointStyle: 'triangle', pointRadius: 3.1, pointBorderWidth: 0, pointBackgroundColor: '#000', pointBorderColor: '#000' }),
        ds('X_Mn', p.xMn, 'yBot', { pointStyle: 'circle', pointRadius: 2.7, pointBorderWidth: 0, pointBackgroundColor: '#000', pointBorderColor: '#000' }),
      ],
    },
    options: {
      animation: false,
      responsive: false,
      devicePixelRatio: 1,
      events: [],
      layout: { padding: { left: p.left, right: W - p.right, top: TOP, bottom: H - BOTTOM } },
      plugins: { legend: { display: false }, tooltip: { enabled: false }, title: { display: false } },
      scales: {
        x: { type: 'linear', min: p.xMin, max: p.xMax, display: false },
        yTop: { type: 'linear', min: Y_TOP_MIN, max: Y_TOP_MAX, display: false },
        yBot: { type: 'linear', min: Y_BOT_MIN, max: Y_BOT_MAX, display: false },
      },
    },
    plugins: withGlobal ? [decor(p), globalPlugin] : [decor(p)],
  };
}

export default function App() {
  const refs = useRef<(HTMLCanvasElement | null)[]>([]);
  useEffect(() => {
    const charts = PANELS.map((p, i) => new Chart(refs.current[i] as HTMLCanvasElement, buildConfig(p, i === 0)));
    return () => charts.forEach((c) => c.destroy());
  }, []);
  return (
    <div style={{ position: 'fixed', left: 0, top: 0, width: W, height: H, background: '#fff', overflow: 'hidden' }}>
      {PANELS.map((p, i) => (
        <canvas
          key={p.key}
          ref={(el) => { refs.current[i] = el; }}
          width={W}
          height={H}
          style={{ position: 'absolute', left: 0, top: 0, width: W, height: H }}
        />
      ))}
    </div>
  );
}
